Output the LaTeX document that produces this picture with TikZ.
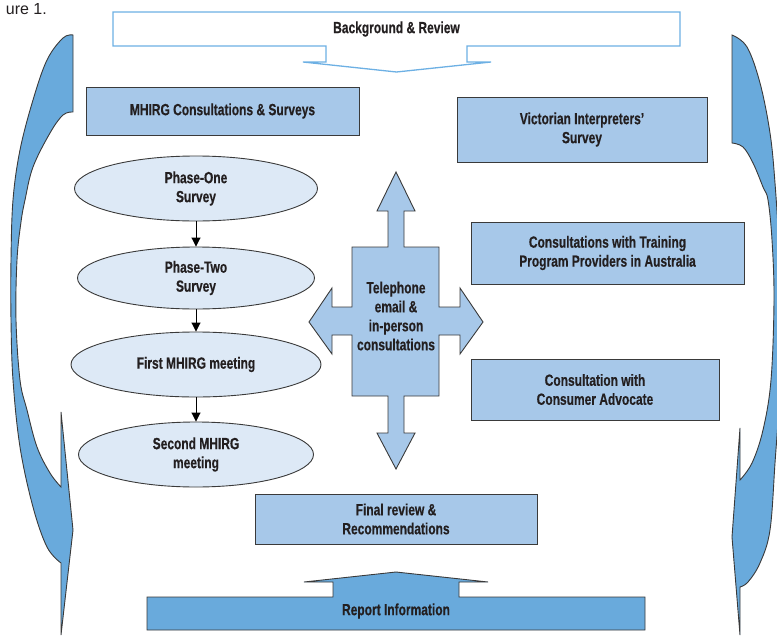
\documentclass[tikz,border=0pt]{standalone}
\usepackage{fontspec}
\setmainfont{Liberation Sans}[FakeStretch=0.74, FakeBold=0.4]
\newfontfamily\capfont{Liberation Sans}
\usetikzlibrary{shapes.geometric,arrows.meta}
\definecolor{txt}{HTML}{231F20}
\definecolor{edge}{HTML}{3A3A3A}
\definecolor{boxfill}{HTML}{A7C8E9}
\definecolor{ellfill}{HTML}{DDE9F6}
\definecolor{midblue}{HTML}{69AADC}
\definecolor{topline}{HTML}{6DB0E4}
\begin{document}
\begin{tikzpicture}[x=1pt,y=-1pt,
  lbl/.style={font=\fontsize{16.2}{19}\selectfont\bfseries, text=txt, align=center, inner sep=0pt},
  rbox/.style={lbl, draw=edge, line width=0.9pt, fill=boxfill},
  ellbox/.style={lbl, ellipse, draw=edge, line width=0.9pt, fill=ellfill},
  shapeline/.style={draw=edge, line width=0.9pt},
  conn/.style={draw=black, line width=0.9pt, -{Triangle[length=9pt,width=9pt]}}]
\useasboundingbox (0,0) rectangle (777,635);

% caption fragment
\node[anchor=base east, inner sep=0pt, font=\capfont\fontsize{16}{18}\selectfont, text=txt] (cap) at (47,14) {ure 1.};

% curved side arrows
\begin{scope}
\clip (0,0) rectangle (777,635);
\filldraw[shapeline, fill=midblue]
  plot[smooth, tension=0.6] coordinates {(73,35) (63,38) (47,60) (33,100) (20,150) (13,200) (11,260) (11,320) (13,380) (20,447) (33,507) (47,547) (61,563)}
  -- (61,635) -- (73,530) -- (61,412) -- (61,487)
  -- plot[smooth, tension=0.6] coordinates {(61,487) (50,473) (37,447) (27,410) (20,380) (16,320) (17,260) (21,222) (25,200) (33,167) (50,133) (63,115) (73,112)}
  -- cycle;
\filldraw[shapeline, fill=midblue]
  plot[smooth, tension=0.6] coordinates {(732,35) (747,47) (760,83) (770,133) (775,183) (779,250) (780,320) (779,400) (775,463) (770,530) (760,563) (748,582) (740,587)}
  -- (740,635) -- (732,537) -- (740,428) -- (740,480)
  -- plot[smooth, tension=0.6] coordinates {(740,480) (752,463) (763,430) (771,380) (774,300) (772,240) (768,200) (763,187) (753,163) (743,147) (732,143)}
  -- cycle;
\end{scope}

% top arrow: Background & Review
\draw[draw=topline, line width=1.3pt, fill=white]
  (113,12) -- (680,12) -- (680,46) -- (467,46) -- (467,62) -- (491,62) -- (396.5,72)
  -- (303,62) -- (326,62) -- (326,46) -- (113,46) -- cycle;
\node[lbl] (bg) at (396.5,29) {Background \& Review};

% bottom arrow: Report Information
\filldraw[shapeline, fill=midblue]
  (147,597) -- (333,597) -- (333,582) -- (304,582) -- (396,572) -- (488,582) -- (459,582)
  -- (459,597) -- (645,597) -- (645,630) -- (147,630) -- cycle;
\node[lbl] (report) at (396,611) {Report Information};

% central cross
\filldraw[shapeline, fill=boxfill]
  (352,247) -- (388,247) -- (388,211) -- (377,211) -- (396,172) -- (415,211) -- (404,211) -- (404,247)
  -- (439,247) -- (439,307) -- (460,307) -- (460,288) -- (483,322) -- (460,354) -- (460,335) -- (439,335)
  -- (439,396) -- (404,396) -- (404,433) -- (415,433) -- (396,469) -- (377,433) -- (388,433) -- (388,396)
  -- (352,396) -- (352,335) -- (332,335) -- (332,354) -- (309,322) -- (332,288) -- (332,307) -- (352,307) -- cycle;
\node[lbl] (cross) at (396,316) {Telephone\\email \&\\in-person\\consultations};

% rectangles
\node[rbox, minimum width=273pt, minimum height=48pt] (mhirg) at (222.5,111) {MHIRG Consultations \& Surveys};
\node[rbox, minimum width=250pt, minimum height=65pt] (vic) at (582,129.5) {Victorian Interpreters'\\Survey};
\node[rbox, minimum width=273pt, minimum height=62pt] (train) at (607.5,253) {Consultations with Training\\Program Providers in Australia};
\node[rbox, minimum width=248pt, minimum height=61pt] (cons) at (595,389.5) {Consultation with\\Consumer Advocate};
\node[rbox, minimum width=282pt, minimum height=50pt] (final) at (396,519) {Final review \&\\Recommendations};

% ellipses
\node[ellbox, minimum width=243pt, minimum height=65pt] (e1) at (196,188.5) {Phase-One\\Survey};
\node[ellbox, minimum width=237pt, minimum height=62pt] (e2) at (196,278) {Phase-Two\\Survey};
\node[ellbox, minimum width=250pt, minimum height=65pt] (e3) at (196,364.5) {First MHIRG meeting};
\node[ellbox, minimum width=235pt, minimum height=65pt] (e4) at (196,454.5) {Second MHIRG\\meeting};

\draw[conn] (e1) -- (e2);
\draw[conn] (e2) -- (e3);
\draw[conn] (e3) -- (e4);
\end{tikzpicture}
\end{document}
